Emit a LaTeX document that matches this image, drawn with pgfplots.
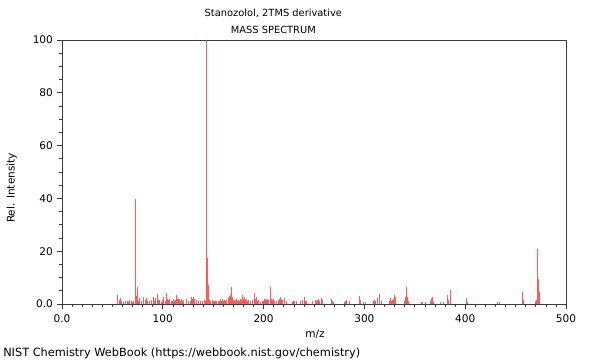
\documentclass[border=0pt]{standalone}
\usepackage{fontspec}
\setmainfont{DejaVu Sans}
\usepackage{pgfplots}
\pgfplotsset{compat=1.18}
\definecolor{peak}{RGB}{255,60,60}
\definecolor{axisgray}{RGB}{60,60,60}
\begin{document}
\fontsize{7.9}{9.5}\selectfont
\begin{tikzpicture}
\path[use as bounding box] (0,0) rectangle (450pt,270pt);
\begin{axis}[at={(46.5pt,42pt)}, anchor=south west, scale only axis,
  width=378pt, height=198pt,
  xmin=0, xmax=500, ymin=0, ymax=100,
  xtick={0,100,...,500}, xticklabels={0.0,100,200,300,400,500},
  ytick={0,20,...,100}, yticklabels={0.0,20,40,60,80,100},
  minor x tick num=9, minor y tick num=3,
  tick align=outside, major tick length=4pt, minor tick length=2.25pt,
  xtick pos=bottom, ytick pos=left,
  axis line style={axisgray, line width=0.6pt},
  tick style={axisgray, line width=0.5pt},
  tick label style={font=\fontsize{7.9}{9.5}\selectfont},
  xticklabel style={yshift=-1pt},
  /pgf/number format/assume math mode=true,
  clip=true]
\addplot[ycomb, draw=peak, line width=0.75pt, opacity=0.85] coordinates {
(55,3.4)(57,1.5)(58,2.3)(59,1.2)(61,0.6)(63,1.0)(65,1.2)(66,0.8)(67,1.5)(69,1.2)(70,0.8)(71,1.0)
(73,39.8)(74,3.2)(75,6.4)(76,1.0)(77,2.3)(79,1.0)(81,2.8)(83,1.5)(84,2.3)(85,1.0)(87,1.0)(89,1.5)
(91,2.5)(92,1.3)(93,2.2)(95,3.9)(96,1.5)(97,1.5)(99,0.8)(100,1.5)(101,2.7)(103,1.0)(104,4.0)(105,2.0)
(106,1.5)(107,2.0)(109,1.2)(110,1.0)(111,2.0)(112,1.0)(113,1.5)(114,3.5)(115,2.0)(116,2.0)(117,2.0)
(118,1.2)(119,2.0)(120,1.2)(121,1.5)(124,2.0)(125,1.0)(127,1.2)(128,2.6)(129,2.0)(130,2.6)(131,2.0)
(133,1.5)(135,1.0)(137,1.0)(139,1.2)(141,1.5)(142,1.0)(143,100)(144,17.5)(145,7.3)(146,1.5)(147,1.2)
(149,1.5)(150,1.0)(151,1.2)(152,1.0)(153,1.2)(155,1.0)(156,1.2)(157,1.8)(158,1.0)(159,1.8)(160,1.2)
(161,1.5)(162,1.2)(163,1.5)(165,2.3)(166,3.0)(167,3.5)(168,6.4)(169,2.5)(170,1.5)(171,1.2)(172,1.5)
(173,2.0)(174,1.2)(175,1.5)(176,1.0)(177,1.8)(178,1.5)(179,3.4)(180,2.0)(181,2.5)(182,1.5)(183,2.0)
(184,1.2)(185,1.5)(187,1.0)(189,1.5)(191,4.3)(192,2.0)(193,2.5)(194,1.0)(195,1.5)(197,0.8)(199,1.0)
(200,1.2)(201,1.8)(202,2.0)(203,1.5)(204,2.0)(205,1.5)(207,6.4)(208,2.0)(209,1.5)(210,2.0)(211,1.2)
(213,1.0)(215,1.5)(216,2.0)(217,2.5)(218,1.5)(219,1.5)(221,2.3)(223,1.0)(229,0.8)(230,1.2)(231,1.0)
(233,1.0)(237,1.0)(239,1.5)(241,2.5)(242,1.2)(243,1.0)(249,1.0)(251,1.5)(252,1.2)(253,1.5)(254,2.0)
(255,1.0)(257,2.3)(258,1.5)(267,1.8)(268,1.0)(269,0.8)(280,0.8)(281,1.2)(282,1.5)(285,1.2)(295,2.9)
(296,1.5)(299,0.8)(301,0.8)(309,1.2)(310,1.5)(311,1.2)(313,2.1)(315,3.8)(317,1.0)(325,1.1)(326,2.1)
(327,1.2)(328,1.5)(329,2.0)(330,3.5)(331,2.5)(340,1.0)(341,2.5)(342,6.6)(343,2.5)(344,1.0)(357,0.8)
(358,0.8)(361,0.8)(366,1.0)(367,2.2)(368,2.8)(369,0.8)(375,0.8)(378,0.8)(382,3.3)(383,1.6)(385,5.4)
(401,2.1)(402,0.8)(432,0.6)(434,0.8)(457,4.4)(458,1.5)(470,1.0)(471,1.5)(472,20.8)(473,9.6)(474,4.4)
};
\end{axis}
\node[font=\fontsize{7.4}{9}\selectfont] at (205pt,260.25pt) {Stanozolol, 2TMS derivative};
\node[font=\fontsize{7.4}{9}\selectfont] at (205pt,247.5pt) {MASS SPECTRUM};
\node at (236.25pt,19.5pt) {m/z};
\node[rotate=90] at (8.75pt,129pt) {Rel. Intensity};
\node[anchor=west, inner sep=0pt, font=\fontsize{8.5}{10}\selectfont] at (2.25pt,5.25pt) {NIST Chemistry WebBook (https://webbook.nist.gov/chemistry)};
\end{tikzpicture}
\end{document}
